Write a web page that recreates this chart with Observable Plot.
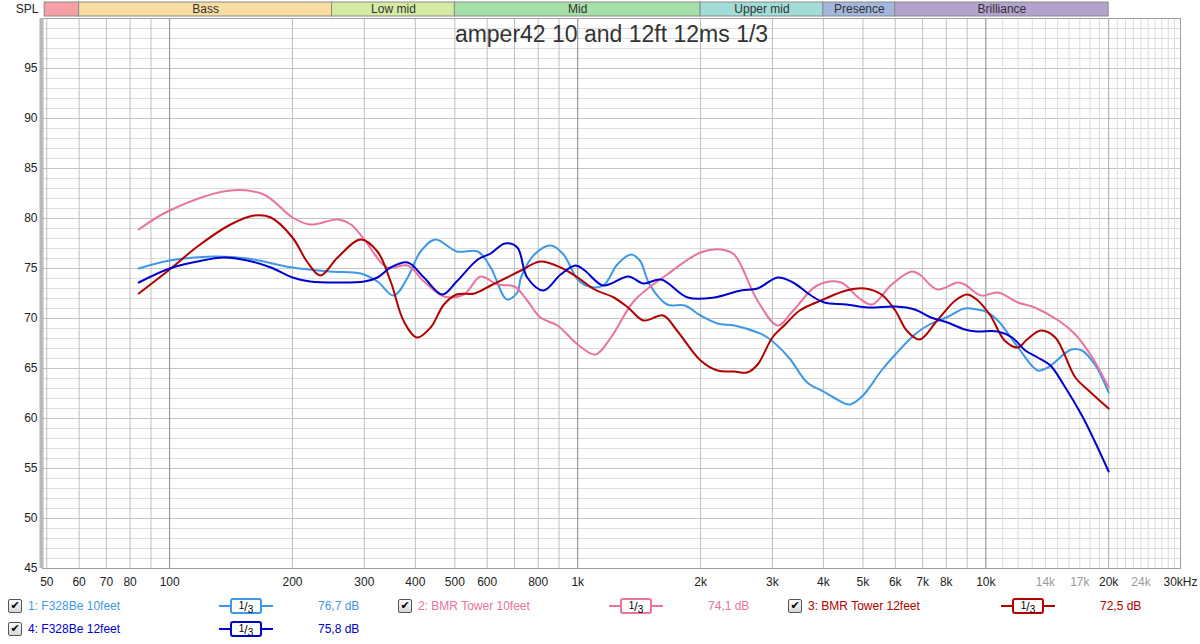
<!DOCTYPE html>
<html><head><meta charset="utf-8">
<script src="https://cdn.jsdelivr.net/npm/d3@7"></script>
<script src="https://cdn.jsdelivr.net/npm/@observablehq/plot@0.6"></script>
<style>
body{margin:0;background:#fff;font-family:"Liberation Sans",Arial,sans-serif;}
#wrap{position:relative;width:1200px;height:644px;overflow:hidden;background:#fff}
#chart svg{display:block}
.lg{position:absolute;font-size:12px;white-space:nowrap;line-height:14px}
.cb{position:absolute;width:12px;height:12px;border:1px solid #555;border-radius:2px;background:linear-gradient(#fafafa,#d8d8d8);font-size:11px;line-height:12px;text-align:center;color:#000;font-weight:bold;font-family:"DejaVu Sans",sans-serif}
.ln{position:absolute;height:2px}
.bx{position:absolute;width:28px;height:12px;border:2px solid;border-radius:3px;background:#fff;font-size:12px;line-height:12px;text-align:center;color:#000}
</style></head><body><div id="wrap"><div id="chart"></div></div>
<script>
// ---- data ----
const seriesNames = ["1: F328Be 10feet","2: BMR Tower 10feet","3: BMR Tower 12feet","4: F328Be 12feet"];
const seriesColors = ["#3f98e6","#e8739f","#b00000","#0000cc"];
const seriesLevels = ["76,7 dB","74,1 dB","72,5 dB","75,8 dB"];

const f1 = [84,100,128,155,200,248,294,323,354,383,412,448,505,569,612,671,711,726,783,860,923,1000,1066,1156,1250,1350,1420,1500,1656,1830,2000,2200,2420,2760,2920,3290,3650,4000,4240,4640,5000,5550,6000,6700,7200,8000,8880,9500,10000,10700,12000,13400,14200,16200,17200,18500,20000];
const v1 = [75.0,75.8,76.2,76.0,75.1,74.7,74.5,73.7,72.3,74.1,76.7,77.9,76.7,76.7,75.1,71.9,72.6,74.1,76.4,77.3,76.4,73.9,73.2,73.3,75.4,76.4,75.8,73.4,71.4,71.3,70.3,69.5,69.3,68.6,68.1,66.1,63.6,62.7,62.1,61.4,62.3,64.8,66.4,68.4,69.3,70.1,71.0,70.9,70.7,69.8,67.1,64.8,65.1,66.9,66.8,65.4,62.6];

const f2 = [84,100,141,170,200,221,258,278,300,341,383,420,470,526,578,636,700,752,810,892,1000,1105,1206,1377,1656,2000,2245,2416,2757,3093,3374,3862,4420,4871,5260,5880,6580,6880,7600,8540,8880,9730,10700,11990,13170,15070,16570,18240,20000];
const v2 = [78.9,80.8,82.8,82.4,80.1,79.4,79.9,79.4,77.9,75.1,75.3,73.7,72.2,72.4,74.2,73.4,73.2,71.8,70.1,69.3,67.4,66.4,68.1,71.8,74.4,76.6,76.9,76.4,71.8,69.3,70.8,73.3,73.6,72.1,71.4,73.4,74.7,74.4,72.9,73.6,73.4,72.3,72.6,71.6,71.1,69.8,68.4,66.1,63.1];

const f3 = [84,100,117,141,161,177,200,217,234,258,294,323,348,375,404,436,470,505,558,612,671,726,810,908,1000,1100,1226,1328,1450,1620,1750,2000,2200,2420,2600,2760,3000,3225,3500,4000,4550,5050,5550,6000,6400,6880,7600,8420,9000,9500,10260,11120,12000,12620,13640,14800,16570,17860,20000];
const v3 = [72.5,74.9,77.2,79.4,80.3,80.1,78.1,75.7,74.3,76.1,77.9,76.7,73.7,69.7,68.1,69.1,71.4,72.4,72.5,73.3,74.1,74.8,75.7,75.1,74.1,72.9,72.1,71.1,69.8,70.3,68.8,65.8,64.8,64.7,64.6,65.4,68.1,69.4,70.8,71.9,72.8,73.0,72.4,70.8,68.8,67.9,69.8,71.8,72.4,71.9,70.3,67.8,67.1,67.9,68.8,68.1,64.1,62.8,61.0];

const f4 = [84,100,117,136,155,177,200,221,258,300,323,348,383,420,466,505,569,612,663,711,752,825,908,988,1040,1156,1330,1450,1600,1860,2160,2510,2760,3090,3370,3730,4020,4550,5150,6000,6700,7340,8060,8880,9500,10700,11600,12500,13400,14400,15500,17200,18500,20000];
const v4 = [73.6,75.0,75.7,76.1,75.8,75.1,74.1,73.7,73.6,73.7,74.1,75.1,75.6,74.1,72.4,73.7,75.9,76.5,77.5,77.1,74.1,72.8,74.4,75.3,74.8,73.3,74.2,73.5,73.9,72.1,72.1,72.8,73.0,74.1,73.6,72.3,71.6,71.4,71.1,71.2,70.9,70.1,69.6,68.9,68.7,68.7,68.1,66.8,66.1,65.3,63.4,60.3,57.7,54.7];

const bandNames = ["", "Bass", "Low mid", "Mid", "Upper mid", "Presence", "Brilliance"];
const bandEdges = [49.4, 60, 250, 500, 2000, 4000, 6000, 20000];
const bandColors = ["#f5a0a6","#f8dca0","#d5eaa2","#a5e0a9","#a2dcd6","#a3b6dc","#b2a2cd"];

const xTickValues = [50,60,70,80,100,200,300,400,500,600,800,1000,2000,3000,4000,5000,6000,7000,8000,10000,14000,17000,20000,24000,30000];
const xTickLabels = ["50","60","70","80","100","200","300","400","500","600","800","1k","2k","3k","4k","5k","6k","7k","8k","10k","14k","17k","20k","24k","30kHz"];
const xTickMinor = [14000,17000,24000];
const yTickValues = [45,50,55,60,65,70,75,80,85,90,95];
const title = "amper42 10 and 12ft 12ms 1/3";

// ---- build tables ----
const curves = [];
[[f1,v1],[f2,v2],[f3,v3],[f4,v4]].forEach(([fs,vs],i)=>{
  fs.forEach((f,j)=>curves.push({f, db: vs[j], s: seriesNames[i]}));
});
const gridMain = [];
for (const d of [10,100,1000]) for (let m=1;m<=9;m++){const f=m*d; if(f>=50 && f<10000 && m!==1) gridMain.push(f);}
const gridDecade = [100,1000,10000];
const gridHigh = d3.range(11000,30001,1000).filter(f=>f!==20000);
const bands = bandNames.map((n,i)=>({name:n,x1:bandEdges[i],x2:bandEdges[i+1],c:bandColors[i],xm:Math.sqrt(bandEdges[i]*bandEdges[i+1])}));
const yMinor = d3.range(46,100).filter(v=>v%5!==0);
const yMajor = d3.range(50,100,5);
const xt = xTickValues.map((v,i)=>({v,l:xTickLabels[i],minor:xTickMinor.includes(v)}));

const chart = Plot.plot({
  width:1200, height:590,
  marginLeft:42, marginRight:20, marginTop:18, marginBottom:22,
  x:{type:"log", domain:[48.8,30000], axis:null},
  y:{domain:[45,100], axis:null},
  color:{domain:seriesNames, range:seriesColors},
  style:{fontFamily:'"Liberation Sans", Arial, sans-serif', background:"#fff"},
  marks:[
    Plot.ruleY(yMinor,{stroke:"#dedede"}),
    Plot.ruleY(yMajor,{stroke:"#c4c4c4"}),
    Plot.ruleX(gridHigh,{stroke:"#dcdcdc"}),
    Plot.ruleX(gridMain,{stroke:"#c0c0c0"}),
    Plot.ruleX([20000],{stroke:"#a8a8a8"}),
    Plot.ruleX(gridDecade,{stroke:"#858585"}),
    Plot.frame({stroke:"#a0a0a0"}),
    Plot.ruleX([48.8],{stroke:"#b8b8b8",strokeWidth:4,dx:-1}),
    // frequency bands
    Plot.rect(bands,{x1:"x1",x2:"x2",y1:100.2,y2:101.6,fill:"c",stroke:"#8a8a8a",strokeWidth:1}),
    Plot.text(bands,{x:"xm",y:100.9,text:"name",fontSize:12,fill:"#333"}),
    Plot.text(["SPL"],{frameAnchor:"top-left",dx:-4,dy:-9,textAnchor:"end",lineAnchor:"middle",fontSize:12,fill:"#222"}),
    // title
    Plot.text([title],{frameAnchor:"top",dy:7,lineAnchor:"top",fontSize:23,fill:"#333"}),
    // curves
    Plot.line(curves,{x:"f",y:"db",z:"s",stroke:"s",strokeWidth:2,curve:"catmull-rom"}),
    // axes
    Plot.text(yTickValues,{y:d=>d,frameAnchor:"left",dx:-5,textAnchor:"end",text:d=>String(d),fontSize:12,fill:"#222"}),
    Plot.text(xt.filter(d=>d.v!==30000),{x:"v",frameAnchor:"bottom",dy:9,lineAnchor:"top",text:"l",fontSize:12,fill:d=>d.minor?"#9a9a9a":"#222"}),
    Plot.text(xt.filter(d=>d.v===30000),{x:"v",frameAnchor:"bottom",dy:9,dx:17,textAnchor:"end",lineAnchor:"top",text:"l",fontSize:12,fill:"#222"})
  ]
});
const wrap = document.getElementById("wrap");
document.getElementById("chart").appendChild(chart);

// ---- legend ----
const legendPos = [
  {row:0, cb:8, lab:28, ln:219, val:318},
  {row:0, cb:398, lab:418, ln:609, val:708},
  {row:0, cb:788, lab:808, ln:1001, val:1100},
  {row:1, cb:8, lab:28, ln:219, val:318}
];
const rowY = [606, 629];
seriesNames.forEach((n,i)=>{
  const p = legendPos[i], cy = rowY[p.row], c = seriesColors[i];
  const add = (cls, css, html)=>{const e=document.createElement("div");e.className=cls;Object.assign(e.style,css);if(html!=null)e.innerHTML=html;wrap.appendChild(e);return e;};
  add("cb",{left:p.cb+"px",top:(cy-7)+"px"},"✔");
  add("lg",{left:p.lab+"px",top:(cy-7)+"px",color:c},n);
  add("ln",{left:p.ln+"px",top:(cy-1)+"px",width:"54px",background:c});
  add("bx",{left:(p.ln+11)+"px",top:(cy-8)+"px",borderColor:c},"<sup style='font-size:10px;vertical-align:2px'>1</sup>/<sub style='font-size:10px;vertical-align:-2px'>3</sub>");
  add("lg",{left:p.val+"px",top:(cy-7)+"px",color:c},seriesLevels[i]);
});
</script></body></html>
